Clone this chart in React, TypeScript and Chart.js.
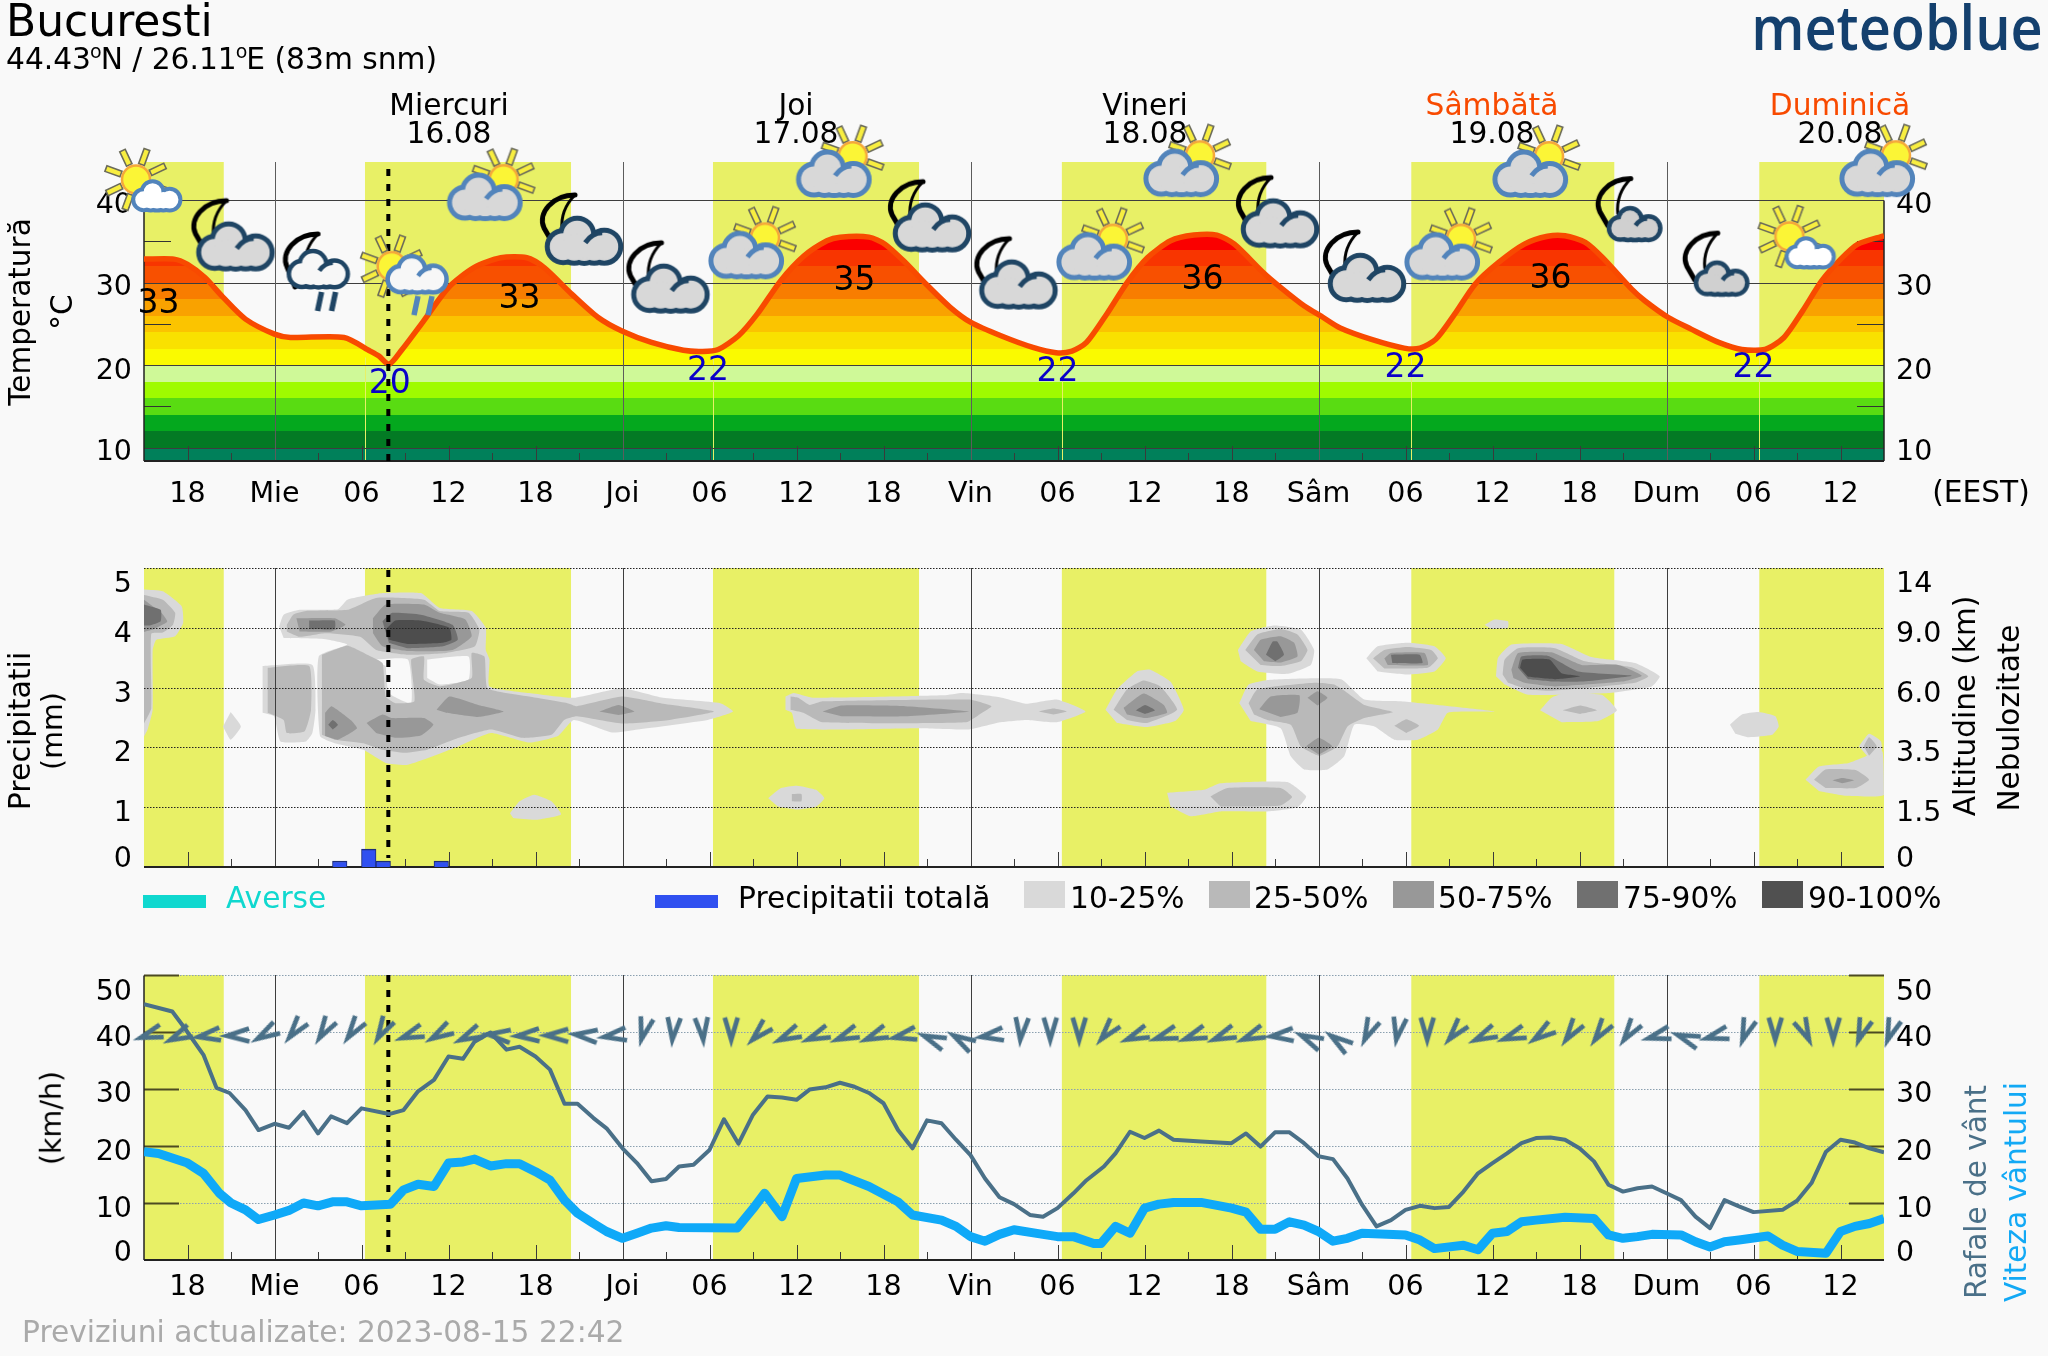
import React, { useEffect, useRef } from 'react';
import { Chart, registerables } from 'chart.js';

Chart.register(...registerables);

const FAMILY = '"DejaVu Sans"';
const PAGE = '#f9f9f9';
const DAYLIGHT = '#e8f066';

// time axis: hours since Tue 15.08 15:00
const xTickHours = [3, 9, 15, 21, 27, 33, 39, 45, 51, 57, 63, 69, 75, 81, 87, 93, 99, 105, 111, 117];
const xTickLabels = ['18', 'Mie', '06', '12', '18', 'Joi', '06', '12', '18', 'Vin', '06', '12', '18', 'Sâm', '06', '12', '18', 'Dum', '06', '12'];
const midnightHours = [9, 33, 57, 81, 105];
const tallTickHours = [3, 15, 21, 27, 39, 45, 51, 63, 69, 75, 87, 93, 99, 111, 117];
const shortTickHours = [6, 12, 18, 24, 30, 36, 42, 48, 54, 60, 66, 72, 78, 84, 90, 96, 102, 108, 114];
const daylightSpans = [[0, 5.5], [15.24, 29.45], [39.24, 53.45], [63.3, 77.4], [87.4, 101.4], [111.4, 120]];
const sunriseHours = [15.24, 39.24, 63.3, 87.4, 111.4];
const nowHour = 16.85;

// temperature
const tempHours = [0, 2.07, 3, 4.2, 5.46, 7, 9, 10.1, 13.8, 15.6, 16.2, 16.9, 17.8, 19.3, 21, 22.75, 24.6, 26.4, 27.6, 29.5, 31.3, 33, 35, 37.2, 38.5, 39.6, 41, 42.3, 43.9, 45.5, 47.1, 48, 50, 51.1, 52.4, 54, 55.6, 57, 59.1, 61.3, 62.9, 64, 65, 66.4, 67.8, 69.2, 70.8, 72.4, 74, 75.2, 77.2, 78.4, 80, 81.3, 82.5, 84.6, 86.9, 88, 89.1, 90.4, 91.8, 93.4, 95.2, 96.8, 98, 99.4, 100.6, 102.6, 103.5, 105.1, 106.7, 108.6, 110.2, 111.8, 113.1, 114.4, 115.7, 117, 118.2, 120];
const tempValues = [32.84, 32.84, 32.2, 30.6, 28.2, 25.57, 23.75, 23.35, 23.35, 21.7, 21.1, 20.1, 21.9, 25.4, 29.4, 31.8, 33, 33, 31.8, 28.6, 25.8, 24.1, 22.75, 21.8, 21.66, 21.9, 23.55, 26.2, 30.2, 33.2, 35.06, 35.5, 35.5, 34.65, 32.6, 29.7, 27, 25.2, 23.55, 22.14, 21.5, 21.7, 22.75, 26.2, 30, 33, 35.06, 35.75, 35.75, 34.65, 31.2, 29.4, 27.2, 25.8, 24.5, 23.15, 22.06, 22.06, 23.15, 26.2, 29.8, 32.4, 34.65, 35.6, 35.66, 34.86, 33, 29.2, 27.8, 25.8, 24.36, 22.75, 21.9, 21.9, 23.35, 26.6, 30.2, 32.8, 34.65, 35.66];
const tempBandEdges = [8, 10, 12, 14, 16, 18, 20, 22, 24, 26, 28, 30, 32, 34, 38];
const tempBandColors = ['#00805a', '#037a24', '#04a81e', '#59dc12', '#9ffb00', '#cff998', '#fafa00', '#f9e100', '#fbc400', '#f9a200', '#f87d00', '#f85000', '#f83500', '#fa0000'];
const tempLabelHours = [1, 16.95, 25.9, 38.9, 49, 63, 73, 87, 97, 111];
const tempLabelLevels = [27.35, 17.7, 27.95, 19.25, 30.1, 19.15, 30.3, 19.65, 30.4, 19.55];
const tempLabelTexts = ['33', '20', '33', '22', '35', '22', '36', '22', '36', '22'];
const tempLabelColors = ['#000', '#0a00c8', '#000', '#0a00c8', '#000', '#0a00c8', '#000', '#0a00c8', '#000', '#0a00c8'];

// weather pictograms
const iconHours = [0, 6.1, 11.9, 17.93, 23.97, 30.14, 36.1, 42, 48.04, 54.14, 60.1, 66, 72, 78.14, 84.14, 90, 96.07, 102.4, 108.4, 114.03, 120];
const iconLevels = [42.3, 35.8, 31.4, 30.9, 41.8, 36.5, 30.7, 34.75, 44.6, 38.1, 31.2, 34.6, 44.7, 38.6, 32, 34.6, 44.6, 38.9, 32.3, 35.4, 44.7];
const iconKinds = ['sunLight', 'moonGrey', 'moonRain', 'sunRain', 'sunGrey', 'moonGrey', 'moonGrey', 'sunGrey', 'sunGrey', 'moonGrey', 'moonGrey', 'sunGrey', 'sunGrey', 'moonGrey', 'moonGrey', 'sunGrey', 'sunGrey', 'moonSmall', 'moonSmall', 'sunLight', 'sunGrey'];

// precipitation (hourly bars)
const rainHours = [13.5, 15.5, 16.5, 20.5];
const rainValues = [0.1, 0.3, 0.1, 0.1];
const rightAltitudeLabels = ['0', '1.5', '3.5', '6.0', '9.0', '14'];

// cloud cover contours: flat [hour, level, hour, level, ...] rings on the 0-5 axis
const cloud10to25 = [
  [0, 4.64, 1.3, 4.61, 2.6, 4.36, 2.7, 4.08, 2.15, 3.86, 0.85, 3.8, 0.6, 3.63, 0.6, 2.63, 0.25, 2.3, 0, 2.18],
  [5.98, 2.59, 6.68, 2.35, 5.98, 2.13, 5.45, 2.35],
  [9.32, 4.02, 9.63, 4.22, 10.73, 4.3, 13.37, 4.31, 14.03, 4.47, 16.45, 4.58, 19.09, 4.58, 20.4, 4.33, 22.6, 4.28, 23.57, 4, 23.57, 3.63, 23.83, 3.47, 23.83, 3.02, 26.56, 2.91, 29.64, 2.83, 32.94, 2.99, 35.8, 2.83, 39.75, 2.74, 40.63, 2.6, 38.87, 2.46, 34.04, 2.3, 32.28, 2.25, 29.64, 2.46, 28.54, 2.19, 26.56, 2.08, 23.92, 2.24, 21.72, 2.02, 18.2, 1.71, 16.67, 1.74, 15.13, 1.96, 13.15, 2.07, 12.14, 2.19, 12.05, 3.52, 14.03, 3.72, 12.49, 3.81, 9.63, 3.83],
  [8.18, 3.36, 11.61, 3.38, 11.83, 2.63, 11.61, 2.24, 11.17, 2.1, 9.41, 2.1, 8.97, 2.52, 8.18, 2.58],
  [25.24, 0.9, 25.9, 1.1, 26.91, 1.21, 28.1, 1.1, 28.76, 0.88, 27, 0.79, 25.46, 0.82],
  [43.05, 1.15, 43.93, 1.32, 45.03, 1.36, 46.35, 1.29, 46.92, 1.15, 46.35, 1.01, 45.03, 0.96, 43.71, 1.01],
  [44.24, 2.85, 44.8, 2.91, 46.13, 2.83, 55.15, 2.87, 56.46, 2.91, 59.01, 2.84, 60.87, 2.73, 62.95, 2.8, 64.93, 2.6, 62.95, 2.42, 60.87, 2.46, 59.03, 2.42, 56.9, 2.3, 53.4, 2.32, 45.03, 2.31, 44.68, 2.58, 44.24, 2.63],
  [66.31, 2.63, 67.1, 2.97, 68.48, 3.27, 69.4, 3.3, 70.79, 3.1, 71.71, 2.63, 71.11, 2.44, 69.17, 2.34, 67.1, 2.41],
  [70.56, 1.24, 73.09, 1.29, 74.24, 1.4, 78.85, 1.42, 80.15, 1.18, 79.55, 1, 77.47, 0.93, 74.24, 0.93, 72.17, 0.85, 70.79, 1.01],
  [75.44, 3.63, 76.32, 3.94, 77.93, 4.04, 79.78, 3.97, 80.7, 3.63, 80.47, 3.38, 78.85, 3.23, 76.78, 3.27, 75.63, 3.44],
  [75.54, 2.74, 76.18, 3.05, 77.7, 3.13, 82.54, 3.14, 84.16, 2.8, 86.69, 2.77, 93.15, 2.6, 89.92, 2.58, 89.23, 2.3, 87.85, 2.13, 86.23, 2.13, 84.85, 2.35, 83.47, 2.38, 82.77, 1.85, 81.62, 1.63, 80.01, 1.63, 79.09, 1.85, 78.39, 2.32, 76.32, 2.44],
  [84.3, 3.49, 85.08, 3.69, 87.15, 3.75, 89, 3.69, 89.78, 3.49, 89, 3.27, 87.15, 3.22, 85.08, 3.27],
  [92.45, 4.05, 93.15, 4.14, 94.07, 4.11, 94.07, 4, 92.92, 3.98],
  [93.24, 3.19, 93.38, 3.5, 94.3, 3.72, 97.76, 3.73, 99.83, 3.51, 102.83, 3.41, 104.53, 3.19, 103.98, 3.02, 100.98, 2.91, 95.45, 2.88, 93.84, 3.05],
  [96.28, 2.62, 97.07, 2.83, 97.9, 2.9, 100.52, 2.88, 101.58, 2.62, 100.29, 2.44, 97.76, 2.42],
  [109.38, 2.38, 110.2, 2.55, 111.36, 2.59, 112.51, 2.52, 112.74, 2.35, 112.28, 2.21, 110.66, 2.17, 109.75, 2.23],
  [114.59, 1.46, 115.51, 1.68, 117.58, 1.74, 119.89, 1.93, 120, 1.21, 117.35, 1.19, 115.51, 1.27],
  [118.27, 2.02, 118.97, 2.23, 119.8, 2.1, 119.8, 1.82, 118.97, 1.82],
];
const cloudClearGaps = [
  [15.79, 3.47, 18.2, 3.47, 18.43, 2.74, 16.89, 2.91, 16.67, 3.36],
  [19.53, 3.47, 22.38, 3.52, 22.38, 3.13, 20.4, 3.05, 19.53, 3.16],
];
const cloud25to50 = [
  [0, 4.55, 1.3, 4.47, 2.15, 4.25, 2, 4.05, 1.3, 3.92, 0.5, 3.9, 0.5, 2.65, 0, 2.4],
  [12.27, 3.55, 14.03, 3.7, 15.57, 3.53, 16.45, 3.41, 16.67, 2.85, 17.33, 2.74, 18.65, 2.77, 18.43, 3.47, 19.31, 3.52, 19.31, 3.13, 20.4, 3.02, 22.6, 3.16, 22.6, 3.58, 23.48, 3.52, 23.7, 2.99, 26.56, 2.85, 29.2, 2.74, 29.86, 2.69, 32.94, 2.85, 35.8, 2.73, 39.31, 2.6, 36.24, 2.46, 32.94, 2.4, 29.86, 2.52, 28.98, 2.46, 28.1, 2.21, 26.12, 2.16, 23.92, 2.3, 21.72, 2.16, 19.53, 1.96, 17.99, 1.91, 16.45, 1.96, 15.13, 2.07, 13.15, 2.13, 12.27, 2.21],
  [9.85, 4.05, 10.29, 4.22, 11.17, 4.28, 14.03, 4.3, 16.01, 4.5, 19.31, 4.47, 20.4, 4.28, 22.38, 4.25, 23.13, 3.97, 22.82, 3.69, 20.84, 3.58, 18.2, 3.55, 16.01, 3.63, 14.91, 3.85, 12.49, 3.91, 10.73, 3.85, 9.85, 3.94],
  [8.53, 3.33, 11.39, 3.36, 11.52, 2.63, 11.08, 2.27, 9.85, 2.24, 9.63, 2.46, 8.53, 2.58],
  [44.68, 1.22, 45.34, 1.22, 45.34, 1.1, 44.68, 1.1],
  [44.59, 2.85, 45.12, 2.83, 45.9, 2.71, 46.8, 2.77, 56.9, 2.8, 58.44, 2.69, 57.8, 2.58, 56.7, 2.42, 46.8, 2.42, 45.47, 2.58, 44.59, 2.63],
  [61.7, 2.6, 62.72, 2.65, 63.64, 2.6, 62.72, 2.55],
  [66.87, 2.63, 67.79, 2.97, 68.94, 3.12, 70.1, 3.02, 71.25, 2.63, 69.17, 2.41, 67.79, 2.46],
  [73.55, 1.18, 74.71, 1.32, 78.39, 1.32, 79.18, 1.17, 78.39, 1.03, 74.24, 1.01],
  [75.95, 3.63, 76.78, 3.89, 78.39, 3.98, 79.55, 3.89, 80.24, 3.63, 79.78, 3.44, 78.39, 3.36, 77.01, 3.38],
  [76.18, 2.74, 76.78, 2.97, 80.7, 3.08, 82.08, 3.05, 83, 2.91, 84.16, 2.71, 86.14, 2.59, 84.16, 2.49, 83, 2.35, 82.31, 2.02, 81.07, 1.86, 79.78, 2.02, 79.09, 2.38, 77.47, 2.46, 76.55, 2.55],
  [86.23, 2.36, 87.06, 2.47, 87.94, 2.36, 87.06, 2.24],
  [84.76, 3.49, 85.54, 3.63, 87.15, 3.68, 88.77, 3.63, 89.23, 3.49, 88.54, 3.33, 85.54, 3.32],
  [93.7, 3.22, 93.84, 3.47, 94.76, 3.66, 97.3, 3.66, 99.37, 3.44, 102.6, 3.34, 103.75, 3.19, 102.83, 3.08, 97.3, 2.95, 95.45, 2.97, 94.07, 3.08],
  [97.85, 2.62, 99.05, 2.7, 100.2, 2.62, 99.05, 2.56],
  [115.18, 1.46, 115.97, 1.63, 118.04, 1.62, 118.97, 1.46, 118.04, 1.32, 115.97, 1.32],
  [118.6, 2.02, 118.97, 2.17, 119.5, 2.02, 118.97, 1.86],
];
const cloud50to75 = [
  [0, 4.47, 1.2, 4.25, 1.6, 4.1, 0.6, 3.97, 0, 3.93],
  [10.51, 4.16, 13.15, 4.16, 13.9, 4.05, 12.93, 3.94, 10.73, 3.94],
  [15.79, 4.16, 16.67, 4.39, 19.31, 4.39, 20.4, 4.25, 22.16, 4.14, 22.6, 3.86, 21.28, 3.63, 18.2, 3.61, 16.45, 3.69, 15.79, 3.91],
  [12.49, 2.58, 12.93, 2.69, 14.25, 2.46, 14.69, 2.32, 13.37, 2.13, 12.49, 2.19],
  [15.35, 2.41, 16.45, 2.55, 17.11, 2.49, 19.31, 2.49, 19.96, 2.38, 19.09, 2.2, 17.33, 2.16, 16.01, 2.24],
  [20.18, 2.63, 21.06, 2.85, 23.04, 2.71, 24.8, 2.6, 23.04, 2.51, 20.84, 2.58],
  [31.4, 2.6, 32.72, 2.71, 33.82, 2.6, 32.72, 2.54],
  [46.8, 2.6, 48.1, 2.7, 52.5, 2.69, 56.9, 2.6, 52.5, 2.52, 48.1, 2.52],
  [67.56, 2.66, 68.94, 2.9, 70.33, 2.71, 70.56, 2.58, 69.08, 2.49, 67.79, 2.55],
  [76.55, 3.63, 77.01, 3.8, 78.39, 3.86, 79.32, 3.75, 79.55, 3.52, 78.39, 3.42, 77.24, 3.44],
  [76.92, 2.64, 77.7, 2.85, 79.68, 2.87, 79.55, 2.58, 78.39, 2.51],
  [80.24, 2.83, 80.93, 2.94, 81.62, 2.83, 80.93, 2.7],
  [80.15, 2.02, 81.02, 2.16, 81.94, 2.02, 81.02, 1.88],
  [85.54, 3.49, 86, 3.58, 88.31, 3.58, 88.54, 3.38, 85.77, 3.38],
  [94.3, 3.3, 94.76, 3.58, 97.07, 3.59, 99.14, 3.38, 101.67, 3.38, 103.3, 3.2, 101.9, 3.1, 97.3, 3.02, 95.22, 3.08, 94.44, 3.16],
  [116.43, 1.45, 117.12, 1.49, 117.95, 1.45, 117.12, 1.4],
];
const cloud75to90 = [
  [0, 4.39, 1.15, 4.3, 1.15, 4.11, 0.4, 4.04, 0, 4.04],
  [11.39, 4.12, 13.15, 4.12, 13.15, 3.98, 11.39, 3.98],
  [16.45, 4.11, 17.11, 4.25, 19.09, 4.22, 21.28, 4.05, 21.64, 3.8, 20.62, 3.69, 18.2, 3.66, 16.89, 3.75],
  [12.71, 2.38, 13.02, 2.46, 13.37, 2.38, 13.02, 2.3],
  [68.39, 2.62, 69.04, 2.71, 69.73, 2.62, 69.04, 2.56],
  [77.38, 3.55, 77.84, 3.77, 78.16, 3.77, 78.62, 3.55, 78.02, 3.44],
  [86, 3.55, 87.98, 3.55, 88.17, 3.41, 86.09, 3.41],
  [94.76, 3.33, 94.99, 3.52, 96.84, 3.53, 98.91, 3.27, 102.6, 3.2, 99.14, 3.1, 97.3, 3.1, 95.45, 3.14],
];
const cloud90to100 = [
  [16.67, 3.97, 17.33, 4.12, 19.09, 4.12, 21.06, 4, 21.2, 3.8, 20.62, 3.75, 18.2, 3.73, 16.89, 3.8],
  [94.9, 3.33, 95.08, 3.47, 96.93, 3.47, 97.76, 3.24, 99.05, 3.19, 97.3, 3.14, 95.45, 3.18],
];
const cloudLayers = [
  { rings: cloud10to25, color: '#d9d9d9', name: '10-25%' },
  { rings: cloudClearGaps, color: PAGE, name: 'clear' },
  { rings: cloud25to50, color: '#b9b9b9', name: '25-50%' },
  { rings: cloud50to75, color: '#989898', name: '50-75%' },
  { rings: cloud75to90, color: '#707070', name: '75-90%' },
  { rings: cloud90to100, color: '#4d4d4d', name: '90-100%' },
];

// wind
const gustHours = [0, 1.95, 2.8, 4.1, 5, 5.9, 7, 7.9, 9, 10, 11, 12, 12.9, 14, 15, 16.9, 17.9, 18.9, 20, 21, 22, 22.8, 23.9, 25, 25.9, 27, 28, 29, 29.9, 31, 31.9, 33, 34, 35, 36, 36.9, 37.9, 39, 40, 41, 42, 43, 44, 45, 45.9, 47, 48, 49, 50, 51, 52, 53, 54, 55, 56, 57, 58, 59, 60, 61.1, 62, 63, 64.1, 65, 66.2, 67, 68, 69, 70, 71, 72.9, 75, 76, 77, 78, 79, 80, 81, 82, 83, 84, 85, 86, 87, 88, 89, 90, 91, 92, 93, 94, 95, 96, 97, 98, 99, 100, 101, 102, 103, 104, 105, 106, 107, 108, 109, 110, 111, 113, 114, 115, 116, 117, 118, 119, 120];
const gustValues = [44.9, 43.6, 40.7, 36, 30.2, 29.3, 26.3, 22.8, 23.9, 23.2, 26, 22.2, 25.2, 24, 26.6, 25.6, 26.3, 29.6, 31.6, 35.7, 35.3, 38.3, 39.9, 36.9, 37.4, 35.7, 33.4, 27.4, 27.4, 24.9, 23.1, 19.6, 17, 13.8, 14.2, 16.4, 16.7, 19.3, 24.7, 20.4, 25.5, 28.7, 28.5, 28.1, 29.9, 30.3, 31.1, 30.4, 29.3, 27.5, 22.8, 19.6, 24.5, 24, 21.1, 18.4, 14.3, 11, 9.8, 7.9, 7.6, 9.1, 11.7, 14, 16.4, 18.7, 22.5, 21.4, 22.7, 21.1, 20.8, 20.5, 22.2, 19.9, 22.4, 22.4, 20.5, 18.2, 17.7, 14.3, 9.7, 5.9, 7, 8.8, 9.5, 9.1, 9.3, 12, 15.2, 17, 18.7, 20.5, 21.4, 21.5, 21.1, 19.6, 17.3, 13.2, 12, 12.6, 12.9, 11.7, 10.5, 7.6, 5.6, 10.5, 9.4, 8.4, 8.8, 10.4, 13.5, 19, 21.1, 20.6, 19.6, 18.9];
const speedHours = [0, 1, 3, 4.1, 5.2, 6, 7, 7.9, 9, 10, 11, 12, 13, 14, 15, 17, 17.9, 18.9, 20, 21, 22, 22.8, 23.9, 25, 25.9, 27, 28, 29, 29.9, 31, 31.9, 33, 34, 35, 36, 36.9, 40.9, 42, 42.8, 44, 45, 47, 48, 50, 52, 53, 55, 56, 57, 58, 59, 60, 62, 63, 64.1, 65.5, 66, 67, 68, 69, 70, 71, 72.9, 75, 76, 77, 78, 79, 80, 81, 82, 83, 84, 87, 88, 89, 91, 92, 93, 94, 95, 96, 98, 100, 101, 102, 103, 104, 106, 107, 108, 109, 110, 112, 113, 114, 116, 117, 118, 119, 120];
const speedValues = [19, 18.7, 17, 15.2, 11.7, 10, 8.8, 7.1, 7.9, 8.7, 10, 9.5, 10.2, 10.2, 9.5, 9.8, 12.3, 13.3, 12.9, 17, 17.2, 17.7, 16.5, 16.9, 16.9, 15.5, 14, 10.5, 8.2, 6.4, 5, 3.8, 4.7, 5.6, 6, 5.7, 5.6, 9, 11.7, 7.6, 14.3, 14.9, 14.9, 12.9, 10.2, 7.9, 7, 5.9, 4.1, 3.3, 4.5, 5.3, 4.5, 4.1, 4.1, 2.9, 2.9, 5.9, 4.7, 9.1, 9.8, 10.1, 10.1, 9.1, 8.4, 5.4, 5.4, 6.7, 6.1, 5, 3.3, 3.8, 4.7, 4.4, 3.5, 2, 2.6, 1.8, 4.7, 5, 6.7, 7, 7.5, 7.3, 4.4, 3.8, 4.1, 4.5, 4.4, 3.2, 2.3, 3.2, 3.5, 4.2, 2.6, 1.5, 1.2, 5, 5.9, 6.4, 7.3];
const arrowHours = [0.5, 2.5, 4.5, 6.5, 8.5, 10.5, 12.5, 14.5, 16.5, 18.5, 20.5, 22.5, 24.5, 26.5, 28.5, 30.5, 32.5, 34.5, 36.5, 38.5, 40.5, 42.5, 44.5, 46.5, 48.5, 50.5, 52.5, 54.5, 56.5, 58.5, 60.5, 62.5, 64.5, 66.5, 68.5, 70.5, 72.5, 74.5, 76.5, 78.5, 80.5, 82.5, 84.5, 86.5, 88.5, 90.5, 92.5, 94.5, 96.5, 98.5, 100.5, 102.5, 104.5, 106.5, 108.5, 110.5, 112.5, 114.5, 116.5, 118.5, 120.5];
const arrowAngles = [18, 25, 8, 2, 30, 52, 58, 55, 60, 20, 30, 25, -5, 3, 0, -5, 8, 75, 85, 95, 90, 45, 25, 22, 22, 22, 12, -22, -30, 8, 85, 90, 90, 50, 22, 18, 20, 22, 22, 5, -25, -35, 65, 80, 90, 50, 25, 20, 35, 55, 55, 55, 15, -20, 15, 70, 90, 115, 90, 70, 70];
const arrowLevels = [39.6, 39.4, 39.4, 39.4, 39.8, 40.6, 40.6, 40.6, 40.6, 39.6, 39.8, 39.4, 39.4, 39.4, 39.4, 39.4, 39.4, 40.6, 40.6, 40.6, 40.6, 40, 39.4, 39.4, 39.4, 39.4, 39.4, 38.6, 38.4, 39.4, 40.6, 40.6, 40.6, 40.2, 39.4, 39.4, 39.4, 39.4, 39.4, 39.4, 38.6, 38.2, 40.4, 40.6, 40.6, 40.2, 39.4, 39.4, 39.8, 40.2, 40.2, 40.2, 39.4, 38.8, 39.4, 40.4, 40.6, 40.4, 40.6, 40.4, 40.4];

const pairs = (xs: number[], ys: number[]) => xs.map((x, i) => ({ x, y: ys[i] }));
const ringPoints = (flat: number[]) => {
  const out: { x: number; y: number }[] = [];
  for (let i = 0; i < flat.length; i += 2) out.push({ x: flat[i], y: flat[i + 1] });
  return out;
};

// ---- pictogram artwork, used as Chart.js point styles ----
function newCanvas(size: number) {
  const c = document.createElement('canvas');
  c.width = size;
  c.height = size;
  return c;
}
function drawSun(g: any, x: number, y: number) {
  for (let i = 0; i < 8; i++) {
    const a = ((25 + 45 * i) * Math.PI) / 180;
    g.save();
    g.translate(x + Math.cos(a) * 24, y - Math.sin(a) * 24);
    g.rotate(-a);
    g.fillStyle = '#f8ee40';
    g.strokeStyle = '#6b6b5a';
    g.lineWidth = 1.6;
    g.fillRect(-8, -3, 16, 6);
    g.strokeRect(-8, -3, 16, 6);
    g.restore();
  }
  g.beginPath();
  g.arc(x, y, 14, 0, Math.PI * 2);
  g.fillStyle = '#fbf536';
  g.fill();
  g.lineWidth = 2.5;
  g.strokeStyle = '#f5a83a';
  g.stroke();
}
function drawMoon(g: any, x: number, y: number, tail: number) {
  g.strokeStyle = '#000';
  g.lineCap = 'round';
  g.lineWidth = 5;
  g.beginPath();
  g.moveTo(x + 16, y - 23);
  g.bezierCurveTo(x - 6, y - 23, x - 22, y - 5, x - 15, y + 10);
  g.lineTo(x - 7, y + tail);
  g.stroke();
  g.lineWidth = 3;
  g.beginPath();
  g.moveTo(x + 16, y - 23);
  g.quadraticCurveTo(x + 1, y - 8, x + 3, y + 12);
  g.stroke();
}
function drawCloud(g: any, x: number, y: number, w: number, fill: string, line: string, lw: number, swirl: boolean) {
  const u = w / 73;
  const lumps = [
    [-21, 5, 13.5],
    [-7, -7, 14],
    [20, 5, 14],
    [0, 6, 13.2],
    [10, 6, 13],
    [-10, 6, 13],
  ];
  g.strokeStyle = line;
  g.lineWidth = lw * 2;
  lumps.forEach(([a, b, r]) => {
    g.beginPath();
    g.arc(x + a * u, y + b * u, r * u, 0, Math.PI * 2);
    g.stroke();
  });
  g.fillStyle = fill;
  lumps.forEach(([a, b, r]) => {
    g.beginPath();
    g.arc(x + a * u, y + b * u, r * u, 0, Math.PI * 2);
    g.fill();
  });
  if (swirl) {
    g.lineWidth = lw;
    g.lineCap = 'butt';
    g.beginPath();
    g.moveTo(x + 1 * u, y + 1 * u);
    g.quadraticCurveTo(x + 8 * u, y - 9 * u, x + 18 * u, y - 9 * u);
    g.stroke();
  }
}
function drawRain(g: any, x: number, y: number, color: string) {
  g.strokeStyle = color;
  g.lineWidth = 5.5;
  g.lineCap = 'butt';
  [0, 14].forEach((d) => {
    g.beginPath();
    g.moveTo(x + d + 3, y);
    g.lineTo(x + d - 1, y + 19);
    g.stroke();
  });
}
function makeIcon(kind: string) {
  const S = 130;
  const c = newCanvas(S);
  const g: any = c.getContext('2d');
  g.translate(S / 2, S / 2);
  const blue = '#5284bb';
  const navy = '#1f4564';
  if (kind === 'sunLight') {
    drawSun(g, -8, -1.5);
    drawCloud(g, 13, 15.5, 46, '#ffffff', blue, 4, false);
  } else if (kind === 'moonGrey') {
    drawMoon(g, -22, -11, 24);
    drawCloud(g, 3.2, 12.7, 73, '#d8d8d8', navy, 5, true);
  } else if (kind === 'moonSmall') {
    drawMoon(g, -14, -7.5, 24);
    drawCloud(g, 6, 15.7, 50, '#d0d0d0', navy, 4.5, true);
  } else if (kind === 'moonRain') {
    drawMoon(g, -14.5, -14, 30);
    drawCloud(g, 2, -1, 58, '#f7f7f7', navy, 4.5, true);
    drawRain(g, 2, 21, navy);
  } else if (kind === 'sunRain') {
    drawSun(g, -12.3, -9);
    drawCloud(g, 13.3, 0, 58, '#f7f7f7', blue, 4.5, true);
    drawRain(g, 11, 21, blue);
  } else {
    drawSun(g, 12, -5.7);
    drawCloud(g, -6.5, 12.7, 70, '#d8d8d8', blue, 5, true);
  }
  return c;
}
function makeWindArrow() {
  const S = 40;
  const c = newCanvas(S);
  const g: any = c.getContext('2d');
  g.translate(S / 2, S / 2);
  g.strokeStyle = '#4a7088';
  g.lineWidth = 4.8;
  g.lineJoin = 'miter';
  g.beginPath();
  g.moveTo(11, -6.5);
  g.lineTo(-11, 0);
  g.lineTo(11, 6.5);
  g.stroke();
  return c;
}

// ---- hand-off to the chart: everything below goes through the scales ----
function furniture(cfg: any) {
  const drawGrid = (chart: any) => {
    const { ctx, chartArea: a, scales } = chart;
    const x = scales.x;
    const y = scales.y;
    const px = (h: number) => Math.round(x.getPixelForValue(h)) + 0.5;
    const py = (v: number) => Math.round(y.getPixelForValue(v)) + 0.5;
    ctx.save();
    if (cfg.sunriseFrom != null) {
      ctx.strokeStyle = DAYLIGHT;
      ctx.lineWidth = 1;
      sunriseHours.forEach((h: number) => {
        ctx.beginPath();
        ctx.moveTo(px(h), py(cfg.sunriseFrom));
        ctx.lineTo(px(h), a.bottom);
        ctx.stroke();
      });
    }
    ctx.lineWidth = 1;
    ctx.strokeStyle = cfg.hColor;
    ctx.setLineDash(cfg.hDash || []);
    cfg.hLines.forEach((v: number) => {
      ctx.beginPath();
      ctx.moveTo(a.left, py(v));
      ctx.lineTo(a.right, py(v));
      ctx.stroke();
    });
    ctx.setLineDash([]);
    ctx.strokeStyle = cfg.vColor;
    midnightHours.forEach((h) => {
      ctx.beginPath();
      ctx.moveTo(px(h), a.top);
      ctx.lineTo(px(h), a.bottom);
      ctx.stroke();
    });
    ctx.strokeStyle = '#3a3a3a';
    tallTickHours.forEach((h) => {
      ctx.beginPath();
      ctx.moveTo(px(h), a.bottom);
      ctx.lineTo(px(h), a.bottom - 15);
      ctx.stroke();
    });
    shortTickHours.forEach((h) => {
      ctx.beginPath();
      ctx.moveTo(px(h), a.bottom);
      ctx.lineTo(px(h), a.bottom - 8);
      ctx.stroke();
    });
    ctx.strokeStyle = cfg.sideTickColor || '#333';
    ctx.lineWidth = cfg.sideTickWidth || 1;
    (cfg.sideTicks || []).forEach((v: number) => {
      ctx.beginPath();
      ctx.moveTo(a.left, py(v));
      ctx.lineTo(a.left + cfg.sideTickLen, py(v));
      ctx.moveTo(a.right, py(v));
      ctx.lineTo(a.right - cfg.sideTickLen, py(v));
      ctx.stroke();
    });
    if (cfg.frameFrom != null) {
      ctx.strokeStyle = '#222';
      ctx.lineWidth = 1.5;
      ctx.beginPath();
      ctx.moveTo(a.left, py(cfg.frameFrom));
      ctx.lineTo(a.left, a.bottom);
      if (cfg.frameRight) {
        ctx.moveTo(a.right, py(cfg.frameFrom));
        ctx.lineTo(a.right, a.bottom);
      }
      ctx.stroke();
    }
    ctx.strokeStyle = '#222';
    ctx.lineWidth = 2;
    ctx.beginPath();
    ctx.moveTo(a.left, a.bottom);
    ctx.lineTo(a.right, a.bottom);
    ctx.stroke();
    ctx.restore();
  };
  const drawNow = (chart: any) => {
    const { ctx, chartArea: a, scales } = chart;
    const p = scales.x.getPixelForValue(nowHour);
    ctx.save();
    ctx.strokeStyle = '#000';
    ctx.lineWidth = 4;
    ctx.setLineDash([7, 8]);
    ctx.beginPath();
    ctx.moveTo(p, a.top + (cfg.nowTopGap || 0));
    ctx.lineTo(p, a.bottom - (cfg.nowBottomGap || 0));
    ctx.stroke();
    ctx.restore();
  };
  return {
    id: 'furniture',
    beforeDraw(chart: any) {
      ['y', 'yRight'].forEach((id) => {
        const s = chart.scales[id];
        if (!s || !cfg.labelShift) return;
        const items = s.getLabelItems();
        if (items.__moved) return;
        items.forEach((it: any, i: number) => {
          it.options.translation = [it.options.translation[0], it.options.translation[1] + cfg.labelShift[i]];
        });
        items.__moved = true;
      });
    },
    beforeDatasetsDraw(chart: any) {
      const { ctx, chartArea: a, scales } = chart;
      ctx.save();
      ctx.fillStyle = DAYLIGHT;
      daylightSpans.forEach(([s, e]) => {
        const l = scales.x.getPixelForValue(s);
        const r = scales.x.getPixelForValue(e);
        ctx.fillRect(l, a.top, r - l, a.bottom - a.top);
      });
      ctx.restore();
      if (cfg.gridAfter < 0) drawGrid(chart);
      if (cfg.nowAfter < 0) drawNow(chart);
    },
    afterDatasetDraw(chart: any, args: any) {
      if (args.index === cfg.gridAfter) drawGrid(chart);
      if (args.index === cfg.nowAfter) drawNow(chart);
    },
    afterDatasetsDraw(chart: any) {
      if (!cfg.valueLabels) return;
      const { ctx, scales } = chart;
      ctx.save();
      ctx.font = `33px ${FAMILY}`;
      ctx.textAlign = 'center';
      ctx.textBaseline = 'middle';
      tempLabelTexts.forEach((t, i) => {
        ctx.fillStyle = tempLabelColors[i];
        ctx.fillText(t, scales.x.getPixelForValue(tempLabelHours[i]), scales.y.getPixelForValue(tempLabelLevels[i]));
      });
      ctx.restore();
    },
  };
}

const tickFont = { family: FAMILY, size: 28.5 };
const noOverhang = (s: any) => {
  s.paddingTop = 0;
  s.paddingBottom = 0;
  s.paddingLeft = 0;
  s.paddingRight = 0;
};

function xAxis(show: boolean, height: number, padding: number) {
  return {
    type: 'linear',
    position: 'bottom',
    min: 0,
    max: 120,
    offset: false,
    grid: { display: false, offset: false, drawTicks: false },
    border: { display: false },
    afterBuildTicks: (s: any) => {
      s.ticks = xTickHours.map((value) => ({ value }));
    },
    afterFit: (s: any) => {
      s.height = height;
      noOverhang(s);
    },
    ticks: {
      display: show,
      autoSkip: false,
      maxRotation: 0,
      minRotation: 0,
      padding,
      color: '#000',
      font: tickFont,
      callback: (v: number) => xTickLabels[xTickHours.indexOf(v)] ?? '',
    },
  };
}
function yAxis(position: string, min: number, max: number, values: number[], width: number, labels?: string[]) {
  return {
    type: 'linear',
    position,
    min,
    max,
    grid: { display: false, drawTicks: false },
    border: { display: false },
    afterBuildTicks: (s: any) => {
      s.ticks = values.map((value) => ({ value }));
    },
    afterFit: (s: any) => {
      s.width = width;
      noOverhang(s);
    },
    ticks: {
      autoSkip: false,
      padding: 12,
      color: '#000',
      font: tickFont,
      callback: (v: number, i: number) => (labels ? labels[i] : String(v)),
    },
  };
}
const frame = (top: number) => ({
  responsive: false,
  maintainAspectRatio: false,
  animation: false,
  devicePixelRatio: 1,
  events: [],
  layout: { autoPadding: false, padding: { top, left: 0, right: 0, bottom: 0 } },
  plugins: { legend: { display: false }, tooltip: { enabled: false }, title: { display: false } },
  elements: { point: { radius: 0 }, line: { tension: 0 } },
});

function stamp(datasets: any[]) {
  datasets.forEach((d, i) => {
    d.order = -i;
  });
  return datasets;
}

function temperatureChart(canvas: HTMLCanvasElement) {
  const images = iconKinds.map(makeIcon);
  const temps = pairs(tempHours, tempValues);
  return new Chart(canvas, {
    type: 'line',
    data: {
      datasets: stamp([
        {
          label: 'Temperatură (zone)',
          data: temps,
          showLine: true,
          borderWidth: 0,
          borderColor: 'transparent',
          pointRadius: 0,
          fill: 'start',
          tension: 0.25,
          backgroundColor: (c: any) => {
            const chart = c.chart;
            if (!chart.chartArea) return 'transparent';
            const y = chart.scales.y;
            const p0 = y.getPixelForValue(tempBandEdges[0]);
            const p1 = y.getPixelForValue(tempBandEdges[tempBandEdges.length - 1]);
            const grad = chart.ctx.createLinearGradient(0, p0, 0, p1);
            const span = tempBandEdges[tempBandEdges.length - 1] - tempBandEdges[0];
            tempBandColors.forEach((col, i) => {
              grad.addColorStop((tempBandEdges[i] - tempBandEdges[0]) / span, col);
              grad.addColorStop((tempBandEdges[i + 1] - tempBandEdges[0]) / span, col);
            });
            return grad;
          },
        },
        {
          label: 'Temperatură',
          data: temps,
          borderColor: '#f84a00',
          borderWidth: 5.5,
          pointRadius: 0,
          fill: false,
          tension: 0.25,
          borderJoinStyle: 'round',
        },
        {
          label: 'Pictograme',
          data: pairs(iconHours, iconLevels),
          showLine: false,
          clip: false,
          pointStyle: images,
          pointRadius: 90,
          pointBorderWidth: 0,
        },
      ]),
    },
    options: {
      ...frame(162),
      scales: {
        x: xAxis(true, 59, 16),
        y: yAxis('left', 8.39, 44.6, [10, 20, 30, 40], 144),
        yRight: yAxis('right', 8.39, 44.6, [10, 20, 30, 40], 164),
      },
    },
    plugins: [
      furniture({
        gridAfter: 0,
        nowAfter: 1,
        nowTopGap: 7,
        hLines: [10, 20, 30, 40],
        hColor: '#3e3e3e',
        vColor: '#5c5c5c',
        sideTicks: [15, 25, 35],
        sideTickLen: 27,
        frameFrom: 40,
        frameRight: true,
        sunriseFrom: 21,
        labelShift: [5, 6, 5, 6],
        valueLabels: true,
      }),
    ],
  } as any);
}

function cloudChart(canvas: HTMLCanvasElement) {
  const rings: any[] = [];
  cloudLayers.forEach((layer) => {
    layer.rings.forEach((ring, i) => {
      rings.push({
        label: `Nebulozitate ${layer.name} #${i}`,
        data: ringPoints(ring),
        showLine: true,
        fill: 'shape',
        borderWidth: 0,
        borderColor: 'transparent',
        backgroundColor: layer.color,
        pointRadius: 0,
        tension: 0.15,
      });
    });
  });
  const last = rings.length;
  return new Chart(canvas, {
    type: 'line',
    data: {
      datasets: stamp([
        ...rings,
        {
          type: 'bar',
          label: 'Precipitatii totală',
          data: pairs(rainHours, rainValues),
          backgroundColor: '#3050f0',
          borderColor: '#1c2c78',
          borderWidth: { top: 1.5, left: 1, right: 1, bottom: 0 },
          barThickness: 14.5,
          grouped: false,
        },
      ]),
    },
    options: {
      ...frame(28),
      scales: {
        x: xAxis(false, 73, 0),
        y: yAxis('left', 0, 5, [0, 1, 2, 3, 4, 5], 144),
        yRight: yAxis('right', 0, 5, [0, 1, 2, 3, 4, 5], 164, rightAltitudeLabels),
      },
    },
    plugins: [
      furniture({
        gridAfter: last - 1,
        nowAfter: last,
        nowBottomGap: 9,
        nowTopGap: 2,
        hLines: [0.001, 1, 2, 3, 4, 5],
        hColor: '#222',
        hDash: [1.5, 1.5],
        vColor: '#3e3e3e',
        labelShift: [-7, 6, 6, 7, 7, 17],
      }),
    ],
  } as any);
}

function windChart(canvas: HTMLCanvasElement) {
  const arrow = makeWindArrow();
  return new Chart(canvas, {
    type: 'line',
    data: {
      datasets: stamp([
        {
          label: 'Direcția vântului',
          data: pairs(arrowHours, arrowLevels),
          showLine: false,
          clip: false,
          pointStyle: arrow,
          pointRadius: 40,
          pointRotation: arrowAngles.map((a) => -a),
        },
        {
          label: 'Rafale de vânt',
          data: pairs(gustHours, gustValues),
          borderColor: '#4a7088',
          borderWidth: 4,
          pointRadius: 0,
          borderJoinStyle: 'round',
        },
        {
          label: 'Viteza vântului',
          data: pairs(speedHours, speedValues),
          borderColor: '#0fa9f8',
          borderWidth: 9,
          pointRadius: 0,
          borderJoinStyle: 'round',
        },
      ]),
    },
    options: {
      ...frame(25),
      scales: {
        x: xAxis(true, 60, 10),
        y: yAxis('left', 0, 50, [0, 10, 20, 30, 40, 50], 144),
        yRight: yAxis('right', 0, 50, [0, 10, 20, 30, 40, 50], 164),
      },
    },
    plugins: [
      furniture({
        gridAfter: -1,
        nowAfter: -1,
        hLines: [10, 20, 30, 40, 50],
        hColor: '#8ba0b0',
        hDash: [1.5, 1.5],
        vColor: '#3e3e3e',
        sideTicks: [10, 20, 30, 40, 50],
        sideTickLen: 35,
        sideTickColor: '#4c4a22',
        sideTickWidth: 2,
        frameFrom: 50,
        labelShift: [-6, 7, 7, 6, 7, 18],
      }),
    ],
  } as any);
}

function Txt({ x, y, size = 29.7, color = '#000', rot = 0, left = false, weight = 400, family = FAMILY, sx = 1, children }: any) {
  return (
    <div
      style={{
        position: 'absolute',
        left: x,
        top: y,
        fontFamily: family,
        fontSize: size,
        fontWeight: weight,
        color,
        lineHeight: 1,
        whiteSpace: 'nowrap',
        transformOrigin: left ? 'left center' : 'center center',
        transform: `translate(${left ? '0' : '-50%'},-50%) rotate(${rot}deg) scaleX(${sx})`,
      }}
    >
      {children}
    </div>
  );
}
function Swatch({ x, y, w, h, color }: any) {
  return <div style={{ position: 'absolute', left: x, top: y, width: w, height: h, background: color }} />;
}
const Deg = () => (
  <span style={{ fontSize: 19, position: 'relative', top: -11, marginLeft: -1, marginRight: -1 }}>o</span>
);

export default function App() {
  const a = useRef<HTMLCanvasElement>(null);
  const b = useRef<HTMLCanvasElement>(null);
  const c = useRef<HTMLCanvasElement>(null);
  useEffect(() => {
    const charts = [temperatureChart(a.current!), cloudChart(b.current!), windChart(c.current!)];
    return () => charts.forEach((ch) => ch.destroy());
  }, []);
  return (
    <div style={{ position: 'fixed', left: 0, top: 0, width: 2048, height: 1356, background: PAGE, overflow: 'hidden' }}>
      <canvas ref={a} width={2048} height={520} style={{ position: 'absolute', left: 0, top: 0, width: 2048, height: 520 }} />
      <canvas ref={b} width={2048} height={400} style={{ position: 'absolute', left: 0, top: 540, width: 2048, height: 400 }} />
      <canvas ref={c} width={2048} height={370} style={{ position: 'absolute', left: 0, top: 950, width: 2048, height: 370 }} />

      <Txt x={6} y={21} size={44} left>Bucuresti</Txt>
      <Txt x={6} y={59} left>44.43<Deg />N / 26.11<Deg />E (83m snm)</Txt>
      <Txt x={1897} y={26} size={62} weight={600} color="#14406e" family='"Open Sans"' sx={0.9}>meteoblue</Txt>

      <Txt x={449} y={105}>Miercuri</Txt>
      <Txt x={449} y={133}>16.08</Txt>
      <Txt x={796} y={105}>Joi</Txt>
      <Txt x={796} y={133}>17.08</Txt>
      <Txt x={1145} y={105}>Vineri</Txt>
      <Txt x={1145} y={133}>18.08</Txt>
      <Txt x={1492} y={105} color="#f84a00">Sâmbătă</Txt>
      <Txt x={1492} y={133}>19.08</Txt>
      <Txt x={1840} y={105} color="#f84a00">Duminică</Txt>
      <Txt x={1840} y={133}>20.08</Txt>
      <Txt x={1981} y={492}>(EEST)</Txt>

      <Txt x={21} y={312} size={29.5} rot={-90}>Temperatură</Txt>
      <Txt x={63} y={312} size={29.5} rot={-90}>°C</Txt>
      <Txt x={20} y={731} size={30} rot={-90}>Precipitatii</Txt>
      <Txt x={53} y={731} size={28.5} rot={-90}>(mm)</Txt>
      <Txt x={1966} y={706} size={29.5} rot={-90}>Altitudine (km)</Txt>
      <Txt x={2010} y={718} size={29.5} rot={-90}>Nebulozitate</Txt>
      <Txt x={52} y={1118} size={28.5} rot={-90}>(km/h)</Txt>
      <Txt x={1977} y={1192} size={29.5} rot={-90} color="#4a7088">Rafale de vânt</Txt>
      <Txt x={2017} y={1192} size={29.5} rot={-90} color="#12a9f5">Viteza vântului</Txt>

      <Swatch x={143} y={895} w={63} h={13} color="#10d8cf" />
      <Txt x={226} y={898} color="#10d8cf" left>Averse</Txt>
      <Swatch x={655} y={895} w={63} h={13} color="#3050f0" />
      <Txt x={738} y={898} left>Precipitatii totală</Txt>
      <Swatch x={1024} y={881} w={41} h={27} color="#d9d9d9" />
      <Txt x={1070} y={898} left>10-25%</Txt>
      <Swatch x={1209} y={881} w={41} h={27} color="#b9b9b9" />
      <Txt x={1254} y={898} left>25-50%</Txt>
      <Swatch x={1393} y={881} w={41} h={27} color="#989898" />
      <Txt x={1438} y={898} left>50-75%</Txt>
      <Swatch x={1577} y={881} w={41} h={27} color="#707070" />
      <Txt x={1623} y={898} left>75-90%</Txt>
      <Swatch x={1762} y={881} w={41} h={27} color="#505050" />
      <Txt x={1808} y={898} left>90-100%</Txt>

      <Txt x={22} y={1332} color="#aaaaaa" left>Previziuni actualizate: 2023-08-15 22:42</Txt>
    </div>
  );
}
